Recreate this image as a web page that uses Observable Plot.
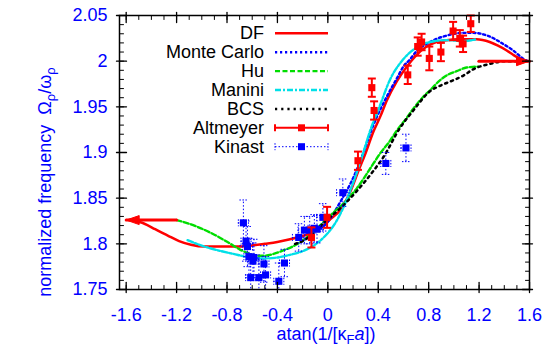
<!DOCTYPE html>
<html><head><meta charset="utf-8">
<script src="https://cdn.jsdelivr.net/npm/d3@7"></script>
<script src="https://cdn.jsdelivr.net/npm/@observablehq/plot@0.6"></script>
<style>
html,body{margin:0;padding:0;background:#fff;}
#chart svg{display:block;}
</style></head><body><div id="chart"></div>
<script>
// ---- tick labels ----
const xTicks = [-1.6, -1.2, -0.8, -0.4, 0, 0.4, 0.8, 1.2, 1.6];
const yTicks = [1.75, 1.8, 1.85, 1.9, 1.95, 2, 2.05];

// ---- theory curves ----
const dfX = [-1.55,-1.455,-1.37,-1.27,-1.18,-1.086,-0.98,-0.875,-0.75,-0.612,-0.5,-0.401,-0.3,-0.243,-0.112,-0.02,0.02,0.099,0.178,0.243,0.296,0.362,0.415,0.468,0.547,0.626,0.692,0.784,0.86,0.942,1.03,1.126,1.179,1.284,1.35,1.416,1.47,1.521,1.561];
const dfY = [1.826,1.822,1.816,1.809,1.803,1.799,1.797,1.797,1.797,1.798,1.800,1.802,1.805,1.807,1.813,1.822,1.827,1.837,1.857,1.880,1.898,1.923,1.939,1.957,1.978,1.994,2.005,2.016,2.021,2.023,2.024,2.024,2.024,2.021,2.017,2.012,2.007,2.003,2.001];

const mcX = [-0.1,-0.045,0.02,0.099,0.204,0.283,0.336,0.389,0.441,0.494,0.547,0.599,0.652,0.705,0.81,0.942,1.073,1.153,1.284,1.389,1.468,1.547,1.6];
const mcY = [1.815,1.818,1.828,1.846,1.873,1.900,1.921,1.939,1.954,1.968,1.981,1.994,2.002,2.011,2.021,2.028,2.031,2.031,2.027,2.019,2.012,2.003,1.999];

const huX = [-1.2,-1.1,-1.007,-0.9,-0.796,-0.7,-0.638,-0.57,-0.507,-0.43,-0.349,-0.28,-0.217,-0.12,-0.033,0.05,0.099,0.231,0.362,0.415,0.494,0.547,0.626,0.678,0.757,0.81,0.889,0.95,1.021,1.1,1.192];
const huY = [1.826,1.822,1.817,1.810,1.802,1.794,1.790,1.787,1.787,1.789,1.793,1.797,1.802,1.812,1.824,1.835,1.841,1.861,1.888,1.899,1.913,1.924,1.938,1.948,1.961,1.968,1.979,1.985,1.989,1.993,1.994];

const maniniX = [-1.113,-1.0,-0.875,-0.75,-0.612,-0.5,-0.401,-0.3,-0.217,-0.138,-0.033,0.073,0.14,0.204,0.27,0.336,0.415,0.494,0.586,0.705,0.81,0.942,1.073,1.179];
const maniniY = [1.804,1.798,1.793,1.789,1.785,1.784,1.785,1.788,1.791,1.796,1.807,1.826,1.845,1.868,1.895,1.924,1.952,1.980,2.000,2.015,2.021,2.023,2.022,2.024];

const bcsX = [-0.26,-0.2,-0.12,-0.033,0.05,0.099,0.231,0.362,0.441,0.573,0.678,0.81,0.889,0.994,1.073,1.152,1.284,1.416,1.5];
const bcsY = [1.800,1.803,1.811,1.823,1.833,1.839,1.858,1.880,1.895,1.927,1.946,1.967,1.973,1.979,1.984,1.991,1.997,2.000,2.000];

// ---- limit arrows ----
const becArrowX = [-1.2, -1.6];
const becArrowY = [1.826, 1.826];
const bcsArrowX = [1.198, 1.6];
const bcsArrowY = [2.0, 2.0];

// ---- experiments ----
const altX = [-0.130,-0.006,0.239,0.349,0.367,0.634,0.713,0.744,0.805,0.897,0.994,1.047,1.073,1.134];
const altY = [1.807,1.829,1.891,1.971,1.946,1.985,2.016,2.021,2.003,2.010,2.033,2.025,2.019,2.041];
const altErr = [0.011,0.0115,0.010,0.010,0.010,0.010,0.010,0.009,0.013,0.010,0.010,0.009,0.009,0.009];

const kinX = [-0.670,-0.649,-0.638,-0.626,-0.594,-0.586,-0.612,-0.547,-0.507,-0.494,-0.389,-0.344,-0.231,-0.186,-0.144,-0.107,-0.086,-0.039,0.119,0.460,0.620];
const kinY = [1.823,1.803,1.797,1.786,1.781,1.785,1.763,1.763,1.778,1.766,1.759,1.779,1.807,1.815,1.815,1.817,1.816,1.829,1.856,1.888,1.905];
const kinYErr = [0.025,0.022,0.022,0.02,0.02,0.02,0.02,0.02,0.02,0.02,0.02,0.015,0.015,0.015,0.015,0.015,0.015,0.015,0.015,0.012,0.015];
const kinXErr = [0.04,0.04,0.04,0.04,0.04,0.04,0.04,0.04,0.04,0.04,0.04,0.04,0.05,0.05,0.05,0.05,0.05,0.05,0.05,0.04,0.04];

const pts = (xs, ys) => xs.map((x, i) => ({x, y: ys[i]}));
const df = pts(dfX, dfY), mc = pts(mcX, mcY), hu = pts(huX, huY), manini = pts(maniniX, maniniY), bcs = pts(bcsX, bcsY);
const becArrow = pts(becArrowX, becArrowY), bcsArrow = pts(bcsArrowX, bcsArrowY);
const alt = altX.map((x, i) => ({x, y: altY[i], lo: altY[i] - altErr[i], hi: altY[i] + altErr[i]}));
const kin = kinX.map((x, i) => ({x, y: kinY[i], lo: kinY[i] - kinYErr[i], hi: kinY[i] + kinYErr[i], xl: x - kinXErr[i], xh: x + kinXErr[i]}));

const RED = "#ff0000", BLUE = "#0000ff", GREEN = "#00dd00", CYAN = "#00e0e8";
const FONT = "'Liberation Sans', Arial, Helvetica, sans-serif";

// custom shapes
const tickShape = (out) => ({draw(ctx, l) { ctx.moveTo(0, out); ctx.lineTo(0, -l); }});
const hbar = {draw(ctx) { ctx.moveTo(-4, 0); ctx.lineTo(4, 0); }};
const vbar = {draw(ctx) { ctx.moveTo(0, -3.5); ctx.lineTo(0, 3.5); }};
const headLeft = {draw(ctx) { ctx.moveTo(0, 0); ctx.lineTo(13, -4.5); ctx.lineTo(13, 4.5); ctx.closePath(); }};
const headRight = {draw(ctx) { ctx.moveTo(0, 0); ctx.lineTo(-13, -4.5); ctx.lineTo(-13, 4.5); ctx.closePath(); }};

const xMinor = d3.range(-16, 17).map(d => d / 10);
const yMinor = d3.range(175, 206).map(d => d / 100);

const chart = Plot.plot({
  width: 556, height: 358,
  marginLeft: 119, marginRight: 27, marginTop: 15, marginBottom: 69,
  style: {fontFamily: FONT, fontSize: "18px", background: "white", overflow: "visible"},
  x: {domain: [-1.653, 1.6], axis: null},
  y: {domain: [1.75, 2.05], axis: null},
  marks: [
    // curves
    Plot.line(df, {x: "x", y: "y", stroke: RED, strokeWidth: 2.5, curve: "monotone-x"}),
    Plot.line(mc, {x: "x", y: "y", stroke: BLUE, strokeWidth: 2.4, strokeDasharray: "2.2,2.8", curve: "monotone-x"}),
    Plot.line(hu, {x: "x", y: "y", stroke: GREEN, strokeWidth: 2.4, strokeDasharray: "5,2.5", curve: "monotone-x"}),
    Plot.line(manini, {x: "x", y: "y", stroke: CYAN, strokeWidth: 2.4, strokeDasharray: "6,2,2,2", curve: "monotone-x"}),
    Plot.line(bcs, {x: "x", y: "y", stroke: "black", strokeWidth: 2.5, strokeDasharray: "2.2,4", curve: "monotone-x"}),
    // limit arrows
    Plot.line(becArrow, {x: "x", y: "y", stroke: RED, strokeWidth: 3}),
    Plot.dot(becArrow.slice(1), {x: "x", y: "y", symbol: headLeft, fill: RED, stroke: RED, strokeWidth: 1}),
    Plot.line(bcsArrow, {x: "x", y: "y", stroke: RED, strokeWidth: 3}),
    Plot.dot(bcsArrow.slice(1), {x: "x", y: "y", symbol: headRight, fill: RED, stroke: RED, strokeWidth: 1}),
    // Kinast
    Plot.ruleX(kin, {x: "x", y1: "lo", y2: "hi", stroke: BLUE, strokeWidth: 1, strokeDasharray: "1.5,2", clip: true}),
    Plot.ruleY(kin, {y: "y", x1: "xl", x2: "xh", stroke: BLUE, strokeWidth: 1, strokeDasharray: "1.5,2", clip: true}),
    Plot.dot(kin, {x: "x", y: "lo", symbol: hbar, stroke: BLUE, strokeWidth: 1, strokeDasharray: "1.5,1.5", clip: true}),
    Plot.dot(kin, {x: "x", y: "hi", symbol: hbar, stroke: BLUE, strokeWidth: 1, strokeDasharray: "1.5,1.5", clip: true}),
    Plot.dot(kin, {x: "xl", y: "y", symbol: vbar, stroke: BLUE, strokeWidth: 1, strokeDasharray: "1.5,1.5", clip: true}),
    Plot.dot(kin, {x: "xh", y: "y", symbol: vbar, stroke: BLUE, strokeWidth: 1, strokeDasharray: "1.5,1.5", clip: true}),
    Plot.dot(kin, {x: "x", y: "y", symbol: "square", r: 4, fill: BLUE, stroke: "none"}),
    // Altmeyer
    Plot.ruleX(alt, {x: "x", y1: "lo", y2: "hi", stroke: RED, strokeWidth: 2}),
    Plot.dot(alt, {x: "x", y: "lo", symbol: hbar, stroke: RED, strokeWidth: 2}),
    Plot.dot(alt, {x: "x", y: "hi", symbol: hbar, stroke: RED, strokeWidth: 2}),
    Plot.dot(alt, {x: "x", y: "y", symbol: "square", r: 4, fill: RED, stroke: "none"}),
    // frame and inward ticks on all four sides
    Plot.frame({stroke: "black", strokeWidth: 1.5}),
    Plot.vectorX(xTicks, {frameAnchor: "bottom", rotate: 0, length: 7, anchor: "start", shape: tickShape(3), stroke: "black", strokeWidth: 1.3}),
    Plot.vectorX(xMinor, {frameAnchor: "bottom", rotate: 0, length: 4, anchor: "start", shape: tickShape(0), stroke: "black", strokeWidth: 1}),
    Plot.vectorX(xTicks, {frameAnchor: "top", rotate: 180, length: 7, anchor: "start", shape: tickShape(3), stroke: "black", strokeWidth: 1.3}),
    Plot.vectorX(xMinor, {frameAnchor: "top", rotate: 180, length: 4, anchor: "start", shape: tickShape(0), stroke: "black", strokeWidth: 1}),
    Plot.vectorY(yTicks, {frameAnchor: "left", rotate: 90, length: 7, anchor: "start", shape: tickShape(3), stroke: "black", strokeWidth: 1.3}),
    Plot.vectorY(yMinor, {frameAnchor: "left", rotate: 90, length: 4, anchor: "start", shape: tickShape(0), stroke: "black", strokeWidth: 1}),
    Plot.vectorY(yTicks, {frameAnchor: "right", rotate: -90, length: 7, anchor: "start", shape: tickShape(3), stroke: "black", strokeWidth: 1.3}),
    Plot.vectorY(yMinor, {frameAnchor: "right", rotate: -90, length: 4, anchor: "start", shape: tickShape(0), stroke: "black", strokeWidth: 1}),
    // tick labels
    Plot.axisX(xTicks, {anchor: "bottom", tickSize: 0, tickPadding: 19, tickFormat: d => String(d), fill: BLUE, fontSize: 18, label: null}),
    Plot.axisY(yTicks, {anchor: "left", tickSize: 0, tickPadding: 12, tickFormat: d => String(d), fill: BLUE, fontSize: 18, label: null})
  ]
});
document.getElementById("chart").appendChild(chart);

// ---- axis titles with sub/italic parts ----
const svg = d3.select(chart);
const ylab = svg.append("text")
  .attr("transform", "translate(51,182) rotate(-90)")
  .attr("text-anchor", "middle").attr("fill", BLUE)
  .attr("font-family", FONT).attr("font-size", 18).style("white-space", "pre");
ylab.append("tspan").text("normalized frequency  \u03A9");
ylab.append("tspan").attr("dy", 4).attr("font-size", 13).text("\u03C1");
ylab.append("tspan").attr("dy", -4).text("/\u03C9");
ylab.append("tspan").attr("dy", 4).attr("font-size", 13).text("\u03C1");

const xlab = svg.append("text")
  .attr("x", 326).attr("y", 340)
  .attr("text-anchor", "middle").attr("fill", BLUE)
  .attr("font-family", FONT).attr("font-size", 18);
xlab.append("tspan").text("atan(1/[\u03BA");
xlab.append("tspan").attr("dy", 4).attr("font-size", 13).text("F");
xlab.append("tspan").attr("dy", -4).attr("font-style", "italic").text("a");
xlab.append("tspan").text("])");

// ---- legend ----
const legendItems = [
  {label: "DF", stroke: RED, width: 2.5, dash: null},
  {label: "Monte Carlo", stroke: BLUE, width: 2.4, dash: "2.2,2.8"},
  {label: "Hu", stroke: GREEN, width: 2.4, dash: "5,2.5"},
  {label: "Manini", stroke: CYAN, width: 2.4, dash: "6,2,2,2"},
  {label: "BCS", stroke: "black", width: 2.5, dash: "2.2,4"},
  {label: "Altmeyer", stroke: RED, width: 2, dash: null, marker: true, cap: 2},
  {label: "Kinast", stroke: BLUE, width: 1, dash: "1.5,2", marker: true, cap: 1}
];
const lg = svg.append("g").attr("font-family", FONT).attr("font-size", 18);
legendItems.forEach((it, i) => {
  const base = 39.3 + i * 18.9, cy = base - 6;
  lg.append("text").attr("x", 264).attr("y", base).attr("text-anchor", "end").attr("fill", "black").text(it.label);
  const x1 = 275, x2 = 328, xm = (x1 + x2) / 2;
  lg.append("line").attr("x1", x1).attr("x2", x2).attr("y1", cy).attr("y2", cy)
    .attr("stroke", it.stroke).attr("stroke-width", it.width).attr("stroke-dasharray", it.dash);
  if (it.marker) {
    [x1, x2].forEach(xx => lg.append("line").attr("x1", xx).attr("x2", xx).attr("y1", cy - 3.5).attr("y2", cy + 3.5)
      .attr("stroke", it.stroke).attr("stroke-width", it.cap).attr("stroke-dasharray", it.dash ? "1.5,1.5" : null));
    lg.append("rect").attr("x", xm - 3.5).attr("y", cy - 3.5).attr("width", 7).attr("height", 7).attr("fill", it.stroke);
  }
});
</script>
</body></html>
